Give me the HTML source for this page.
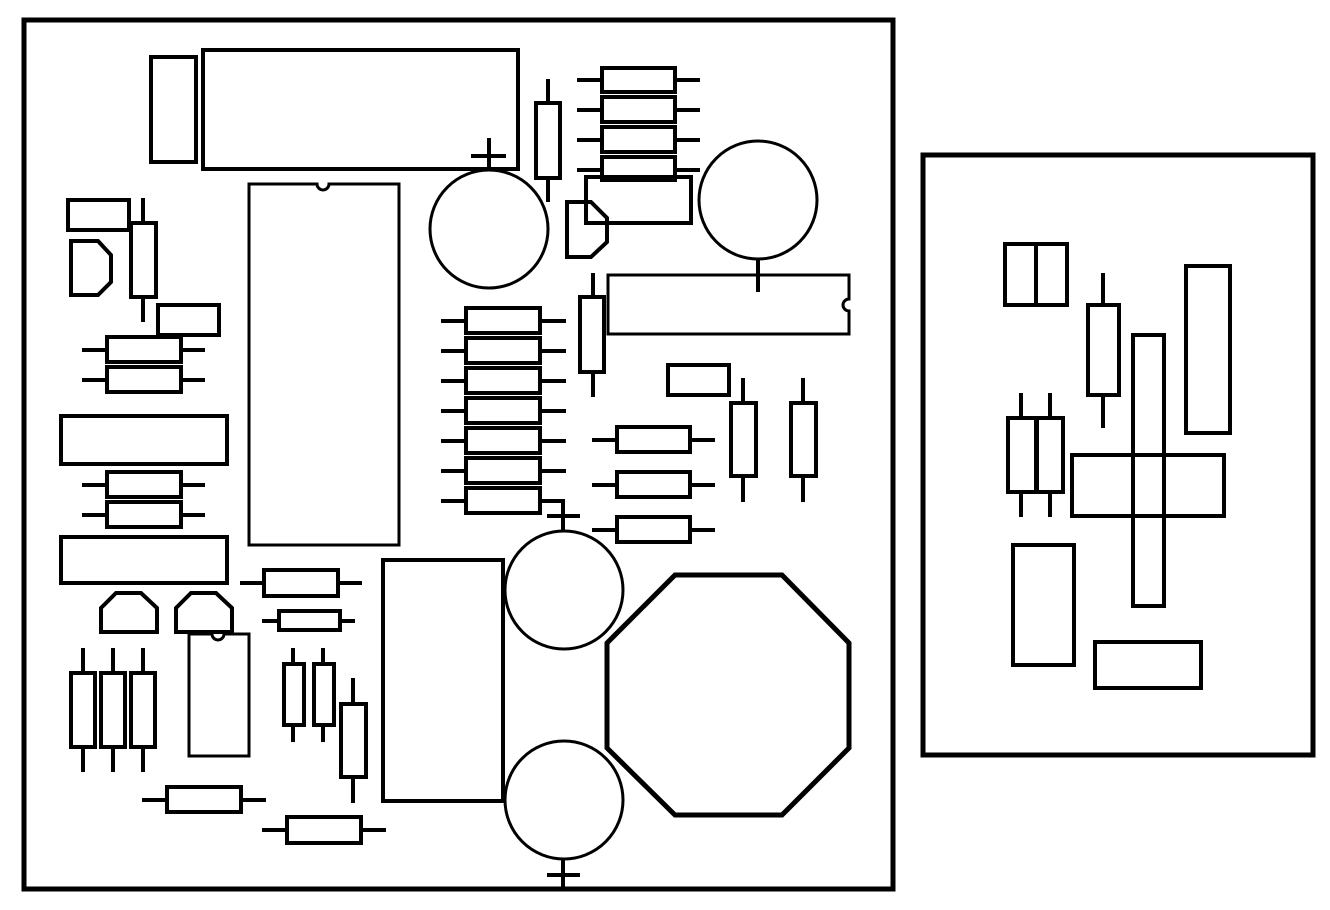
<!DOCTYPE html>
<html><head><meta charset="utf-8"><style>html,body{margin:0;padding:0;background:#fff;}svg{display:block}</style></head>
<body>
<svg width="1330" height="910" viewBox="0 0 1330 910" xmlns="http://www.w3.org/2000/svg" fill="none" stroke="#000" stroke-width="4">
<rect x="24" y="20" width="869" height="869" stroke-width="5"/>
<rect x="923" y="155" width="390" height="600" stroke-width="5"/>

<!-- top left -->
<rect x="151" y="57" width="45" height="105"/>
<rect x="203" y="50" width="315" height="119"/>
<path d="M249,545 V184 H317 A6,6 0 0 0 329,184 H399 V545 Z" stroke-width="3"/>
<circle cx="489" cy="229" r="59" stroke-width="3"/>
<path d="M489,138 V170 M471,156 H506"/>
<rect x="536" y="103" width="24" height="75"/>
<path d="M548,79 V103 M548,178 V202"/>
<rect x="602" y="68" width="73" height="24"/>
<rect x="602" y="97" width="73" height="25"/>
<rect x="602" y="127" width="73" height="25"/>
<rect x="602" y="157" width="73" height="23"/>
<path d="M577,80 H602 M675,80 H700 M577,110 H602 M675,110 H700 M577,140 H602 M675,140 H700 M577,170 H602 M675,170 H700"/>
<rect x="586" y="177" width="105" height="46"/>
<path d="M567,202 H591 L607,218 V242 L591,257 H567 Z"/>
<circle cx="758" cy="200" r="59" stroke-width="3"/>
<path d="M758,259 V292"/>
<path d="M608,275 H849 V299 A6,6 0 0 0 849,311 V334 H608 Z" stroke-width="3"/>
<rect x="580" y="297" width="24" height="75"/>
<path d="M593,273 V297 M593,372 V397"/>

<!-- resistor column -->
<g>
<rect x="466" y="308" width="74" height="25"/>
<rect x="466" y="338" width="74" height="25"/>
<rect x="466" y="368" width="74" height="25"/>
<rect x="466" y="398" width="74" height="25"/>
<rect x="466" y="428" width="74" height="25"/>
<rect x="466" y="458" width="74" height="25"/>
<rect x="466" y="488" width="74" height="25"/>
<path d="M441,321 H466 M540,321 H566 M441,351 H466 M540,351 H566 M441,381 H466 M540,381 H566 M441,411 H466 M540,411 H566 M441,441 H466 M540,441 H566 M441,471 H466 M540,471 H566 M441,501 H466 M540,501 H563 V531 M547,516 H580"/>
</g>
<circle cx="564" cy="590" r="59" stroke-width="3"/>
<circle cx="564" cy="800" r="59" stroke-width="3"/>
<path d="M563,859 V889 M547,875 H580"/>
<rect x="383" y="560" width="120" height="241"/>
<path d="M675,575 H782 L849,643 V748 L782,815 H675 L607,748 V643 Z" stroke-width="5"/>

<rect x="668" y="365" width="61" height="30"/>
<rect x="731" y="403" width="25" height="73"/>
<path d="M743,378 V403 M743,476 V502"/>
<rect x="791" y="403" width="25" height="73"/>
<path d="M803,378 V403 M803,476 V502"/>
<rect x="617" y="427" width="73" height="25"/>
<rect x="617" y="472" width="73" height="25"/>
<rect x="617" y="517" width="73" height="25"/>
<path d="M592,440 H617 M690,440 H715 M592,485 H617 M690,485 H715 M592,530 H617 M690,530 H715"/>

<!-- left side -->
<rect x="68" y="200" width="61" height="30"/>
<rect x="131" y="223" width="25" height="74"/>
<path d="M143,198 V223 M143,297 V322"/>
<path d="M71,241 H98 L111,255 V282 L98,295 H71 Z"/>
<rect x="158" y="305" width="61" height="30"/>
<rect x="107" y="337" width="74" height="25"/>
<rect x="107" y="367" width="74" height="25"/>
<path d="M82,350 H107 M181,350 H205 M82,380 H107 M181,380 H205"/>
<rect x="61" y="416" width="166" height="48"/>
<rect x="107" y="472" width="74" height="25"/>
<rect x="107" y="502" width="74" height="25"/>
<path d="M82,485 H107 M181,485 H205 M82,515 H107 M181,515 H205"/>
<rect x="61" y="537" width="166" height="46"/>
<path d="M101,608 L116,593 H141 L157,608 V632 H101 Z"/>
<path d="M176,608 L191,593 H216 L232,608 V632 H176 Z"/>
<path d="M189,756 V634 H212 A6,6 0 0 0 224,634 H249 V756 Z" stroke-width="3"/>
<rect x="71" y="673" width="24" height="74"/>
<rect x="101" y="673" width="24" height="74"/>
<rect x="131" y="673" width="24" height="74"/>
<path d="M83,648 V673 M83,747 V772 M113,648 V673 M113,747 V772 M143,648 V673 M143,747 V772"/>
<rect x="264" y="570" width="74" height="26"/>
<path d="M240,583 H264 M338,583 H362"/>
<rect x="279" y="611" width="61" height="19"/>
<path d="M262,621 H279 M340,621 H355"/>
<rect x="284" y="664" width="20" height="61"/>
<rect x="314" y="664" width="20" height="61"/>
<path d="M293,648 V664 M293,725 V742 M323,648 V664 M323,725 V742"/>
<rect x="341" y="704" width="25" height="73"/>
<path d="M353,678 V704 M353,777 V803"/>
<rect x="167" y="787" width="74" height="25"/>
<path d="M142,800 H167 M241,800 H266"/>
<rect x="287" y="817" width="74" height="26"/>
<path d="M262,830 H287 M361,830 H386"/>

<!-- right panel -->
<rect x="1005" y="244" width="62" height="61"/>
<path d="M1036,244 V305"/>
<rect x="1088" y="305" width="31" height="90"/>
<path d="M1103,273 V305 M1103,395 V428"/>
<rect x="1186" y="266" width="44" height="167"/>
<rect x="1133" y="335" width="31" height="271"/>
<rect x="1072" y="455" width="152" height="61"/>
<rect x="1008" y="418" width="28" height="74"/>
<rect x="1037" y="418" width="26" height="74"/>
<path d="M1021,393 V418 M1021,492 V517 M1050,393 V418 M1050,492 V517"/>
<rect x="1013" y="545" width="61" height="120"/>
<rect x="1095" y="642" width="106" height="46"/>
</svg>
</body></html>
